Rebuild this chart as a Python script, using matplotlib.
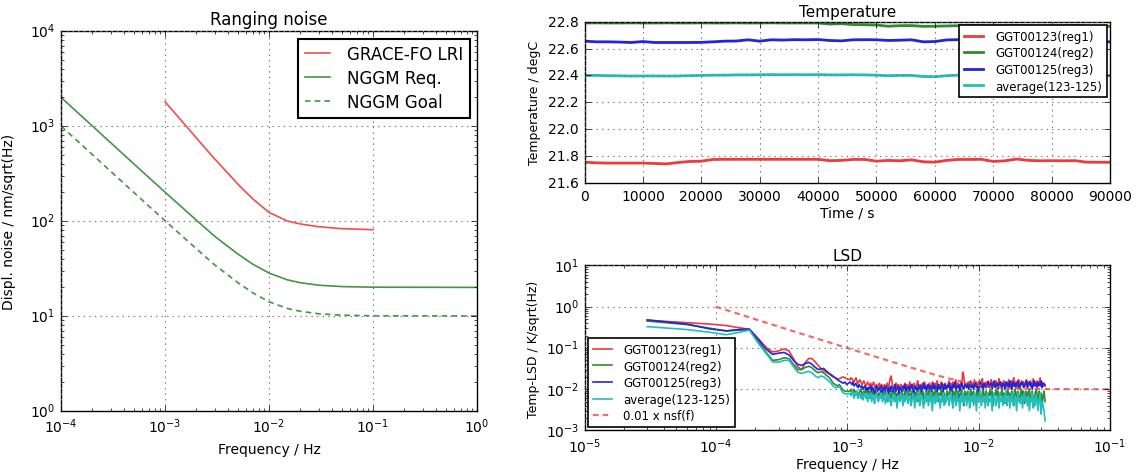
import numpy as np
import matplotlib
matplotlib.use("Agg")
import matplotlib.pyplot as plt

# ---------------- data ----------------
# Ranging noise (left panel)
F_REQ = [1e-4, 2e-4, 5e-4, 1e-3, 2e-3, 3e-3, 5e-3, 7e-3, 1e-2, 1.5e-2, 2e-2, 3e-2, 5e-2, 1e-1, 1.0]
NGGM_REQ = [2000, 1000, 400, 201, 102, 69, 45, 35, 28.3, 24, 22.4, 21.1, 20.4, 20.1, 20]
NGGM_GOAL = [1000, 500, 200, 100.5, 51, 34.5, 22.5, 17.5, 14.1, 12, 11.2, 10.55, 10.2, 10.05, 10]
F_LRI = [1e-3, 1.2e-3, 1.5e-3, 1.75e-3, 2e-3, 2.5e-3, 3e-3, 4e-3, 5e-3, 7e-3, 1e-2, 1.5e-2, 2e-2, 3e-2, 5e-2, 1e-1]
GRACE_LRI = [1800, 1430, 1080, 885, 750, 565, 450, 320, 245, 170, 123, 100, 93, 87, 83, 81]

# Temperature (top right panel)
TIME_S = list(range(0, 90001, 2000))
T_REG1 = [21.755, 21.750, 21.748, 21.748, 21.748, 21.748, 21.745, 21.742, 21.752, 21.760,
          21.762, 21.775, 21.776, 21.776, 21.776, 21.776, 21.776, 21.776, 21.776, 21.776,
          21.776, 21.766, 21.768, 21.775, 21.775, 21.762, 21.768, 21.765, 21.772, 21.758,
          21.755, 21.768, 21.775, 21.775, 21.776, 21.760, 21.765, 21.778, 21.768, 21.765,
          21.766, 21.765, 21.766, 21.755, 21.754, 21.754]
T_REG2 = [22.790, 22.791, 22.790, 22.790, 22.791, 22.790, 22.790, 22.791, 22.790, 22.790,
          22.791, 22.790, 22.790, 22.791, 22.790, 22.790, 22.791, 22.790, 22.790, 22.790,
          22.790, 22.782, 22.785, 22.778, 22.777, 22.775, 22.766, 22.770, 22.771, 22.765,
          22.766, 22.768, 22.770, 22.772, 22.771, 22.768, 22.770, 22.772, 22.769, 22.767,
          22.768, 22.770, 22.772, 22.766, 22.765, 22.765]
T_REG3 = [22.655, 22.650, 22.650, 22.648, 22.645, 22.652, 22.645, 22.645, 22.645, 22.645,
          22.646, 22.650, 22.655, 22.656, 22.665, 22.655, 22.665, 22.663, 22.666, 22.665,
          22.667, 22.660, 22.657, 22.665, 22.666, 22.665, 22.660, 22.662, 22.665, 22.650,
          22.652, 22.664, 22.666, 22.665, 22.663, 22.660, 22.662, 22.666, 22.664, 22.660,
          22.662, 22.665, 22.662, 22.655, 22.652, 22.650]
T_AVG = [22.400, 22.400, 22.398, 22.397, 22.395, 22.396, 22.396, 22.395, 22.396, 22.398,
         22.400, 22.402, 22.402, 22.404, 22.404, 22.405, 22.406, 22.405, 22.406, 22.405,
         22.406, 22.404, 22.404, 22.405, 22.404, 22.402, 22.398, 22.400, 22.400, 22.392,
         22.390, 22.398, 22.402, 22.403, 22.402, 22.400, 22.401, 22.403, 22.402, 22.400,
         22.401, 22.402, 22.401, 22.398, 22.397, 22.398]

# LSD (bottom right panel), values in mK/sqrt(Hz)
# first N_LOW values: bins spaced 3e-5 Hz; the rest: log-spaced bins 1.05e-3 .. 3.2e-2 Hz
N_LOW = 33
LSD_REG1 = [470, 410, 380, 350, 310, 285, 170, 105, 80, 85, 95, 85, 55, 35, 30, 45, 56, 55, 46, 38,
            32, 28, 26, 24, 23, 21, 19, 18, 18, 19, 20, 19, 18,
            17, 19, 18, 16, 15, 17, 19, 16, 14, 15, 17, 15, 13, 14, 16, 14, 12, 13, 15, 13,
            12, 14, 11, 13, 15, 12, 11, 13, 10, 12, 14, 11, 13, 12, 10, 13, 11, 12, 14, 11,
            13, 19, 21, 14, 11, 10, 12, 14, 11, 13, 12, 10, 13, 11, 9, 12, 14, 11, 13, 10,
            12, 15, 11, 13, 10, 14, 12, 11, 13, 16, 11, 10, 13, 12, 14, 11, 15, 12, 10, 13,
            11, 14, 12, 10, 15, 13, 11, 14, 12, 16, 10, 13, 12, 15, 11, 13, 10, 14, 12, 11,
            13, 16, 12, 14, 11, 15, 13, 12, 17, 11, 14, 12, 10, 15, 13, 26, 22, 12, 14, 11,
            13, 15, 12, 16, 11, 14, 13, 17, 12, 15, 11, 14, 16, 12, 13, 18, 11, 14, 12, 15,
            13, 16, 12, 14, 17, 11, 15, 13, 12, 16, 14, 11, 18, 13, 15, 12, 14, 16, 11, 13,
            15, 12, 17, 13, 11, 16, 14, 19, 12, 15, 13, 11, 17, 14, 12, 16, 13, 15, 11, 14,
            17, 12, 15, 13, 16, 11, 14, 18, 12, 15, 13, 16, 12, 14, 19, 13, 15, 12, 14, 13]
LSD_REG2 = [450, 370, 300, 260, 270, 280, 140, 80, 50, 52, 58, 55, 40, 30, 30, 34, 36, 33, 28, 25,
            27, 25, 22, 20, 17, 14, 13, 12, 13, 11, 9.5, 9, 8.8,
            9, 10, 9, 8, 10, 9, 8, 9, 7, 8, 9, 10, 8, 7, 9, 8, 10, 7, 8, 9,
            7, 9, 6, 8, 10, 7, 8, 9, 6, 8, 7, 9, 10, 7, 6, 8, 9, 7, 5, 8,
            9, 7, 6, 10, 8, 7, 9, 5, 8, 7, 10, 6, 8, 9, 7, 5, 9, 8, 6, 10,
            7, 8, 5, 9, 7, 10, 6, 8, 9, 5, 7, 8, 10, 6, 9, 7, 4.5, 8, 9, 6,
            8, 10, 7, 5, 9, 8, 6, 10, 7, 9, 5, 8, 7, 10, 6, 9, 8, 4.5, 7, 9,
            6, 8, 10, 7, 5, 9, 8, 6, 11, 7, 9, 5, 8, 7, 10, 6, 4, 9, 8, 6,
            9, 7, 5, 10, 8, 6, 9, 7, 4.5, 8, 10, 6, 9, 7, 5, 8, 10, 6, 7, 9,
            5, 8, 7, 10, 6, 9, 4, 8, 7, 10, 6, 9, 5, 8, 7, 11, 6, 8, 4.5, 9,
            7, 10, 6, 8, 5, 9, 7, 4, 10, 8, 6, 9, 7, 5, 8, 10, 6, 9, 4.5, 7,
            9, 6, 8, 10, 5, 7, 9, 6, 4, 8, 10, 7, 5, 9, 6, 8, 4, 7, 9, 5]
LSD_REG3 = [480, 380, 290, 260, 280, 285, 160, 95, 70, 75, 78, 68, 50, 40, 38, 42, 45, 40, 34, 30,
            31, 32, 28, 25, 22, 20, 19, 17, 16, 15, 14, 15, 13,
            15, 14, 13, 15, 12, 13, 14, 12, 11, 13, 12, 11, 12, 10, 11, 12, 10, 11, 9, 11,
            10, 12, 9, 11, 10, 8, 11, 12, 9, 10, 11, 9, 12, 8, 10, 11, 9, 12, 10, 8,
            11, 9, 12, 10, 8, 11, 13, 9, 10, 12, 8, 11, 10, 9, 12, 10, 13, 9, 11, 10,
            12, 9, 11, 13, 10, 8, 12, 10, 11, 9, 13, 10, 12, 9, 11, 14, 10, 12, 9, 11,
            13, 10, 12, 9, 11, 14, 10, 12, 11, 9, 13, 11, 10, 12, 14, 9, 11, 13, 10, 12,
            11, 14, 10, 12, 9, 13, 11, 15, 10, 12, 11, 13, 9, 12, 14, 11, 10, 13, 12, 11,
            14, 10, 12, 15, 11, 13, 10, 12, 14, 11, 13, 9, 12, 15, 11, 13, 10, 14, 12, 11,
            13, 15, 11, 12, 14, 10, 13, 16, 11, 12, 14, 10, 13, 15, 12, 11, 14, 13, 10, 15,
            12, 14, 11, 16, 13, 10, 15, 12, 14, 11, 13, 16, 12, 10, 14, 13, 15, 11, 12, 14,
            16, 11, 13, 15, 12, 14, 10, 13, 16, 12, 14, 11, 15, 13, 12, 16, 11, 14, 13, 12]
LSD_AVG = [330, 280, 240, 210, 240, 270, 130, 75, 46, 45, 50, 50, 35, 26, 24, 26, 27, 25, 21, 19,
           21, 20, 18, 16, 14, 12, 11, 11, 12, 9.5, 8.2, 7.8, 7.6,
           8, 7, 9, 8, 6, 8, 7, 9, 6, 7, 8, 6, 7, 5.5, 8, 7, 6, 8, 5, 7,
           6, 8, 5, 7, 6, 4.5, 7, 8, 6, 5, 7, 6, 8, 5, 6, 7, 4.5, 6, 8, 5,
           7, 5, 4, 6, 8, 5, 7, 6, 3.5, 6, 7, 5, 8, 6, 4, 7, 5, 6, 8, 4.5,
           6, 7, 4, 5, 8, 6, 3.5, 7, 5, 6, 9, 4, 6, 7, 5, 3.5, 6, 8, 5, 7,
           4, 6, 8, 5, 3, 7, 6, 4.5, 8, 5, 6, 7, 3.5, 6, 5, 8, 4, 7, 5, 6,
           7, 4, 6, 8, 5, 3.5, 7, 6, 4, 8, 5, 6, 3, 7, 5, 8, 4.5, 6, 7, 4,
           6, 8, 3.5, 6, 5, 7, 4, 8, 6, 3, 7, 5, 6, 9, 4, 6, 5, 7, 3.5, 6,
           8, 4, 6, 5, 7, 3, 6, 8, 5, 4, 7, 6, 3.5, 8, 5, 6, 4, 7, 5, 9,
           4, 6, 7, 3.5, 6, 8, 5, 4, 7, 6, 3, 8, 5, 6, 4.5, 7, 3.5, 6, 8, 5,
           6, 4, 7, 3, 6, 5, 8, 3.5, 6, 4, 7, 5, 3, 6, 8, 2.5, 5, 4, 3, 1.7]

F_NSF = [1e-4, 3e-4, 1e-3, 3e-3, 5e-3, 7e-3, 1e-2, 1.5e-2, 2e-2, 3e-2, 1e-1]
NSF_001 = [1.0, 0.33, 0.1, 0.034, 0.021, 0.016, 0.0125, 0.0108, 0.0104, 0.0101, 0.0100]

LEG_T = ["GGT00123(reg1)", "GGT00124(reg2)", "GGT00125(reg3)", "average(123-125)"]

# ---------------- style ----------------
plt.style.use("classic")
plt.rcParams.update({
    "font.family": ["DejaVu Sans"],
    "mathtext.fontset": "dejavusans",
    "figure.facecolor": "white",
    "savefig.facecolor": "white",
    "axes.linewidth": 1.0,
    "grid.color": "#777777",
    "grid.linestyle": ":",
    "grid.linewidth": 0.8,
    "legend.fancybox": False,
    "legend.numpoints": 1,
})

RED = "#f03a3a"
GREEN = "#2e8b2e"
BLUE = "#2424d8"
CYAN = "#22bdbd"

fig = plt.figure(figsize=(11.37, 4.77), dpi=100)
ax1 = fig.add_axes([0.0537, 0.1363, 0.3659, 0.7966])
ax2 = fig.add_axes([0.5141, 0.6143, 0.4622, 0.3382])
ax3 = fig.add_axes([0.5141, 0.0954, 0.4622, 0.3459])

# ---- left: ranging noise ----
ax1.loglog(F_LRI, GRACE_LRI, color=RED, lw=1.2, alpha=0.9, label="GRACE-FO LRI")
ax1.loglog(F_REQ, NGGM_REQ, color=GREEN, lw=1.2, alpha=0.9, label="NGGM Req.")
ax1.loglog(F_REQ, NGGM_GOAL, color=GREEN, lw=1.2, alpha=0.9, dashes=(4, 3), label="NGGM Goal")
ax1.set_xlim(1e-4, 1)
ax1.set_ylim(1, 1e4)
ax1.grid(True, which="major")
ax1.set_title("Ranging noise", fontsize=12, pad=5)
ax1.set_xlabel("Frequency / Hz", fontsize=10)
ax1.set_ylabel("Displ. noise / nm/sqrt(Hz)", fontsize=10)
ax1.yaxis.set_label_coords(-0.108, 0.5)
ax1.tick_params(labelsize=10)
leg1 = ax1.legend(loc="upper right", fontsize=12, handlelength=1.5, handletextpad=1.0,
                  labelspacing=0.35, borderaxespad=0.45, borderpad=0.4)
leg1.get_frame().set_linewidth(1.5)
leg1.get_frame().set_edgecolor("black")

# ---- top right: temperature ----
ax2.plot(TIME_S, T_REG1, color=RED, lw=2, label=LEG_T[0])
ax2.plot(TIME_S, T_REG2, color=GREEN, lw=2, label=LEG_T[1])
ax2.plot(TIME_S, T_REG3, color=BLUE, lw=2, label=LEG_T[2])
ax2.plot(TIME_S, T_AVG, color=CYAN, lw=2, label=LEG_T[3])
ax2.set_xlim(0, 90000)
ax2.set_ylim(21.6, 22.8)
ax2.set_xticks(range(0, 90001, 10000))
ax2.set_yticks([21.6, 21.8, 22.0, 22.2, 22.4, 22.6, 22.8])
ax2.set_yticklabels(["21.6", "21.8", "22.0", "22.2", "22.4", "22.6", "22.8"])
ax2.grid(True)
ax2.set_title("Temperature", fontsize=11, pad=4)
ax2.set_xlabel("Time / s", fontsize=10, labelpad=2)
ax2.set_ylabel("Temperature / degC", fontsize=9)
ax2.yaxis.set_label_coords(-0.082, 0.5)
ax2.tick_params(labelsize=10)
leg2 = ax2.legend(loc="upper right", fontsize=8.5, handlelength=1.6, handletextpad=1.0,
                  labelspacing=0.3, borderaxespad=0.3)
leg2.get_frame().set_linewidth(1.2)

# ---- bottom right: LSD ----
f_lsd = np.concatenate([np.arange(1, N_LOW + 1) * 3e-5,
                        np.geomspace(1.05e-3, 3.2e-2, len(LSD_REG1) - N_LOW)])
ax3.loglog(f_lsd, np.array(LSD_REG1) * 1e-3, color=RED, lw=1.2, label=LEG_T[0])
ax3.loglog(f_lsd, np.array(LSD_REG2) * 1e-3, color=GREEN, lw=1.2, label=LEG_T[1])
ax3.loglog(f_lsd, np.array(LSD_REG3) * 1e-3, color=BLUE, lw=1.2, label=LEG_T[2])
ax3.loglog(f_lsd, np.array(LSD_AVG) * 1e-3, color=CYAN, lw=1.2, label=LEG_T[3])
ax3.loglog(F_NSF, NSF_001, color=RED, lw=1.6, alpha=0.75, dashes=(4, 3), label="0.01 x nsf(f)")
ax3.set_xlim(1e-5, 1e-1)
ax3.set_ylim(1e-3, 1e1)
ax3.grid(True, which="major")
ax3.set_title("LSD", fontsize=11, pad=4)
ax3.set_xlabel("Frequency / Hz", fontsize=10, labelpad=2)
ax3.set_ylabel("Temp-LSD / K/sqrt(Hz)", fontsize=9)
ax3.yaxis.set_label_coords(-0.085, 0.5)
ax3.tick_params(labelsize=10)
leg3 = ax3.legend(loc="lower left", fontsize=8.5, handlelength=1.6, handletextpad=1.0,
                  labelspacing=0.3, borderaxespad=0.3)
leg3.get_frame().set_linewidth(1.2)

fig.savefig("out.png", dpi=100)
